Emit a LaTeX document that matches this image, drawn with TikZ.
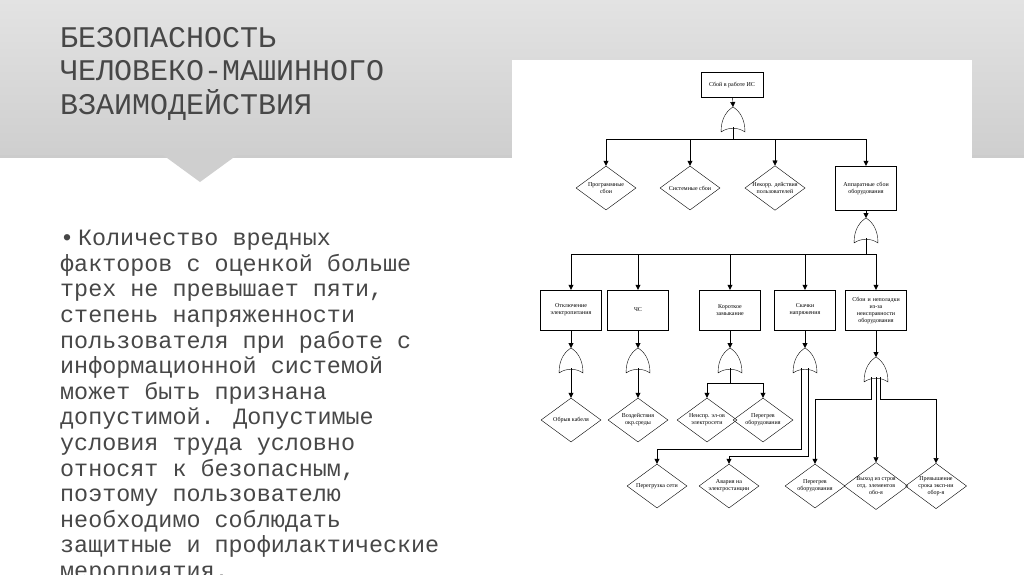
\documentclass[tikz,border=0pt]{standalone}
\usepackage{fontspec}
\setmainfont{Liberation Serif}
\newfontfamily\monof{Liberation Mono}
\usetikzlibrary{shapes.geometric,arrows.meta}
\begin{document}
\begin{tikzpicture}[x=1pt,y=-1pt,
  fbox/.style={draw,thin,minimum width=61pt,minimum height=40pt,align=center,font=\fontsize{6}{7}\selectfont,inner sep=1pt,text width=58pt},
  fdia/.style={draw,thin,diamond,aspect=1.35,minimum width=60pt,minimum height=44pt,inner sep=0pt,align=center,font=\fontsize{6}{7}\selectfont},
  arr/.style={thin,-{Triangle[length=5pt,width=5pt]}},
  orgate/.pic={\draw[thin] (-12,25) .. controls (-12,10) and (-5,3) .. (0,0) .. controls (5,3) and (12,10) .. (12,25) .. controls (5,20) and (-5,20) .. (-12,25);
    \coordinate (-in) at (0,0); \coordinate (-out) at (0,20);}]
\useasboundingbox (0,0) rectangle (1024,574);
\fill[white] (0,0) rectangle (1024,574);
\shade[top color=gray!22,bottom color=gray!38] (0,0) rectangle (1024,155);
\fill[gray!40] (0,155) rectangle (1024,158);
\fill[gray!38] (163,155) -- (237,155) -- (200,182) -- cycle;
\node[anchor=north west,align=left,font=\monof\fontsize{30}{33.5}\selectfont,text=black!72,inner sep=0pt] (title) at (60,27) {БЕЗОПАСНОСТЬ\\ЧЕЛОВЕКО-МАШИННОГО\\ВЗАИМОДЕЙСТВИЯ};
\node[anchor=north west,align=left,font=\monof\fontsize{23.4}{25.6}\selectfont,text=black!72,inner sep=0pt] (body) at (60,230) {•\,Количество вредных\\факторов с оценкой больше\\трех не превышает пяти,\\степень напряженности\\пользователя при работе с\\информационной системой\\может быть признана\\допустимой. Допустимые\\условия труда условно\\относят к безопасным,\\поэтому пользователю\\необходимо соблюдать\\защитные и профилактические\\мероприятия.};
\fill[white] (512,60) rectangle (972,574);
% top
\node[draw,thin,minimum width=62pt,minimum height=25pt,inner sep=1pt,font=\fontsize{6}{7}\selectfont] (top) at (732,85) {Сбой в работе ИС};
\pic (g0) at (733,107) {orgate};
\draw[arr] (top) -- (g0-in);
\node[fdia] (d1) at (606,188) {Программные\\сбои};
\node[fdia] (d2) at (690,188) {Системные сбои};
\node[fdia] (d3) at (775,188) {Некорр. действия\\пользователей};
\node[fbox,minimum height=44pt] (b0) at (866,188) {Аппаратные сбои\\оборудования};
\foreach \t in {d1,d2,d3,b0}{\draw[arr] (g0-out) -- (g0-out|-0,139) -| (\t.north);}
\pic (g1) at (866,218) {orgate};
\draw[arr] (b0) -- (g1-in);
\node[fbox] (b1) at (571,310) {Отключение\\электропитания};
\node[fbox] (b2) at (638,310) {ЧС};
\node[fbox] (b3) at (730,310) {Короткое\\замыкание};
\node[fbox] (b4) at (805,310) {Скачки\\напряжения};
\node[fbox] (b5) at (876,310) {Сбои и неполадки\\из-за\\неисправности\\оборудования};
\foreach \t in {b1,b2,b3,b4,b5}{\draw[arr] (g1-out) -- (g1-out|-0,254) -| (\t.north);}
\pic (g2) at (571,348) {orgate};
\pic (g3) at (638,348) {orgate};
\pic (g4) at (730,348) {orgate};
\pic (g5) at (805,348) {orgate};
\pic (g6) at (876,357) {orgate};
\draw[arr] (b1) -- (g2-in);
\draw[arr] (b2) -- (g3-in);
\draw[arr] (b3) -- (g4-in);
\draw[arr] (b4) -- (g5-in);
\draw[arr] (b5) -- (g6-in);
\node[fdia] (e1) at (571,420) {Обрыв кабеля};
\node[fdia] (e2) at (638,420) {Воздействия\\окр.среды};
\node[fdia] (e3) at (707,420) {Неиспр. эл-ов\\электросети};
\node[fdia] (e4) at (763,420) {Перегрев\\оборудования};
\draw[arr] (g2-out) -- (e1.north);
\draw[arr] (g3-out) -- (e2.north);
\draw[arr] (g4-out) -- (g4-out|-0,383) -| (e3.north);
\draw[arr] (g4-out) -- (g4-out|-0,383) -| (e4.north);
\node[fdia] (f1) at (657,486) {Перегрузка сети};
\node[fdia] (f2) at (729,486) {Авария на\\электростанции};
\node[fdia] (f3) at (815,486) {Перегрев\\оборудования};
\node[fdia] (f4) at (876,486) {Выход из строя\\отд. элементов\\обо-я};
\node[fdia] (f5) at (936,486) {Превышение\\срока эксп-ии\\обор-я};
\coordinate (s1) at ([xshift=-4pt]g5-out);
\coordinate (s2) at ([xshift=3pt]g5-out);
\draw[arr] (s1) -- (s1|-0,449) -| (f1.north);
\draw[arr] (s2) -- (s2|-0,456) -| (f2.north);
\coordinate (t1) at ([xshift=-5pt]g6-out);
\coordinate (t2) at ([xshift=4pt]g6-out);
\draw[arr] (t1) -- (t1|-0,399) -| (f3.north);
\draw[arr] (g6-out) -- (f4.north);
\draw[arr] (t2) -- (t2|-0,399) -| (f5.north);
\end{tikzpicture}
\end{document}
